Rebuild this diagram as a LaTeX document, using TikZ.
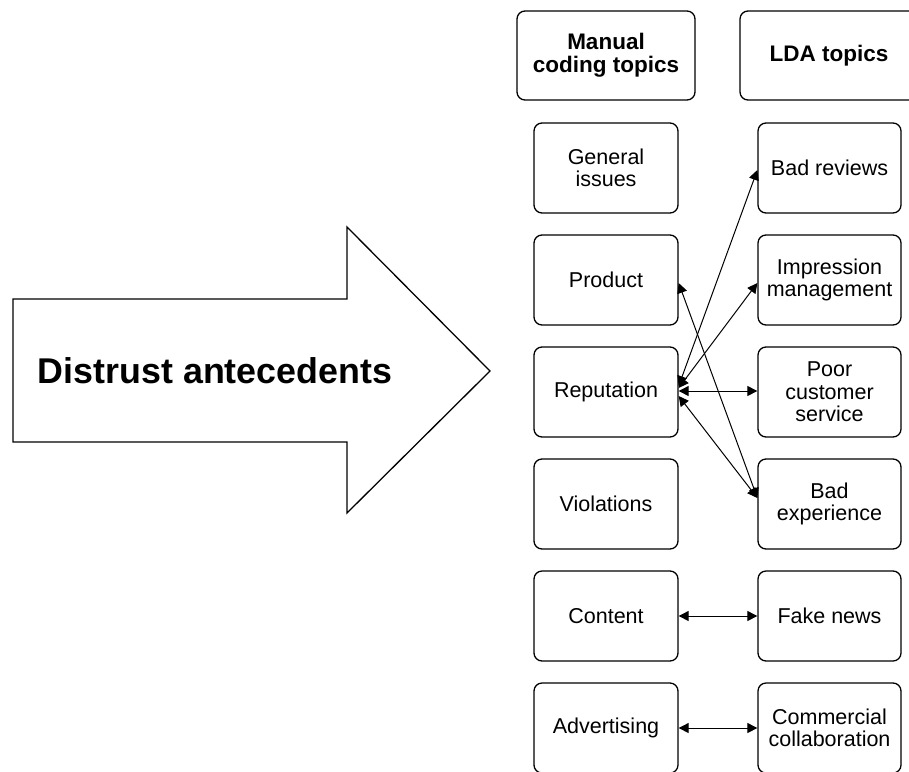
\documentclass[tikz,border=0pt]{standalone}
\usepackage{fontspec}
\setmainfont{Liberation Sans}
\usetikzlibrary{arrows.meta}
\begin{document}
\begin{tikzpicture}[x=1pt,y=-1pt,
  topicbox/.style={draw, line width=1.3pt, rounded corners=8pt, minimum width=143pt, minimum height=90pt, inner sep=0pt, align=center, font=\fontsize{21.5}{22.5}\selectfont},
  headbox/.style={draw, line width=1.3pt, rounded corners=8pt, minimum width=178pt, minimum height=89pt, inner sep=0pt, align=center, font=\fontsize{22.5}{23}\selectfont\bfseries},
  link/.style={line width=1pt, {Triangle[length=10pt,width=10pt]}-{Triangle[length=10pt,width=10pt]}},
  bigarrow/.style={draw, line width=1.3pt}]
\useasboundingbox (0,0) rectangle (909,771);
% big arrow
\draw[bigarrow] (13,299) -- (347,299) -- (347,227) -- (490,371) -- (347,513) -- (347,442) -- (13,442) -- cycle;
\node[font=\fontsize{35.8}{38}\selectfont\bfseries] (dist) at (215,371) {Distrust antecedents};
% headers
\node[headbox] (hm) at (606,55.5) {Manual\\coding topics};
\node[headbox] (hl) at (829,55.5) {LDA topics};
% left column
\node[topicbox, minimum width=144pt] (gi) at (606,168) {General\\issues};
\node[topicbox, minimum width=144pt] (pr) at (606,280) {Product};
\node[topicbox, minimum width=144pt] (re) at (606,392) {Reputation};
\node[topicbox, minimum width=144pt] (vi) at (606,504) {Violations};
\node[topicbox, minimum width=144pt] (co) at (606,616) {Content};
\node[topicbox, minimum width=144pt] (ad) at (606,728) {Advertising};
% right column
\node[topicbox] (br) at (829.5,168) {Bad reviews};
\node[topicbox] (im) at (829.5,280) {Impression\\management};
\node[topicbox] (pc) at (829.5,392) {Poor\\customer\\service};
\node[topicbox] (be) at (829.5,504) {Bad\\experience};
\node[topicbox] (fn) at (829.5,616) {Fake news};
\node[topicbox] (cc) at (829.5,728) {Commercial\\collaboration};
% connectors
\draw[link] ([yshift=6pt]re.east) -- ([yshift=-2pt]br.west);
\draw[link] ([yshift=4pt]re.east) -- ([yshift=-3pt]im.west);
\draw[link] ([yshift=1pt]re.east) -- ([yshift=1pt]pc.west);
\draw[link] ([yshift=-4pt]re.east) -- ([yshift=6pt]be.west);
\draw[link] ([yshift=-3pt]pr.east) -- ([yshift=6pt]be.west);
\draw[link] (co.east) -- (fn.west);
\draw[link] (ad.east) -- (cc.west);
\end{tikzpicture}
\end{document}
